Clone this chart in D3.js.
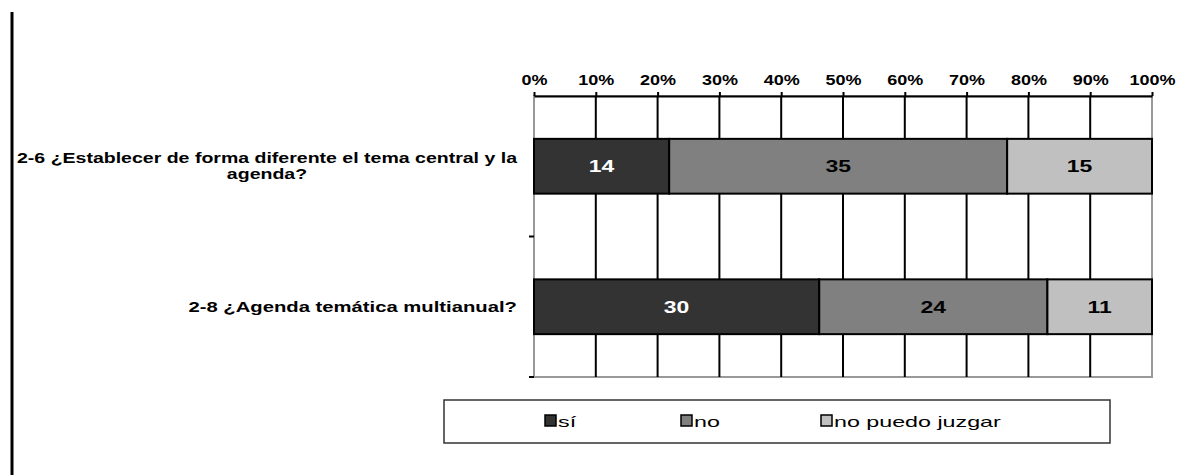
<!DOCTYPE html>
<html lang="en">
  <head>
    <meta charset="utf-8">
    <title>Agenda stacked bars</title>
    <script type="text/javascript" src="https://cdn.jsdelivr.net/npm/d3@7"></script>
    <style type="text/css">
     body { margin: 0; background: #fff; }
     text { font-family: "Liberation Sans", Arial, sans-serif; }
    </style>
  </head>
  <body>
    <script type="text/javascript">

     // data
     let questions = ["2-6 ¿Establecer de forma diferente el tema central y la agenda?",
                      "2-8 ¿Agenda temática multianual?"];
     let questionLines = [["2-6 ¿Establecer de forma diferente el tema central y la", "agenda?"],
                          ["2-8 ¿Agenda temática multianual?"]];
     let seriesNames = ["sí", "no", "no puedo juzgar"];
     let siValues = [14, 30];
     let noValues = [35, 24];
     let npjValues = [15, 11];
     let tickLabels = ["0%", "10%", "20%", "30%", "40%", "50%", "60%", "70%", "80%", "90%", "100%"];
     let colors = ["#333333", "#808080", "#c0c0c0"];
     let labelColors = ["#ffffff", "#000000", "#000000"];

     let w = 1177, h = 475;
     let margin = {top: 96, right: 25, bottom: 98, left: 534};

     // the original text looks horizontally stretched, so widen it a bit
     function stretch(sel, factor, adjust) {
       sel.each(function() {
         let len = this.getComputedTextLength();
         d3.select(this)
           .attr("textLength", len * factor)
           .attr("lengthAdjust", adjust || "spacingAndGlyphs");
       });
     }

     let svg = d3.select("body").append("svg")
                 .attr("width", w)
                 .attr("height", h)
                 .style("display", "block");

     // left frame line
     svg.append("line")
        .attr("x1", 12).attr("x2", 12)
        .attr("y1", 12).attr("y2", h)
        .attr("stroke", "#000").attr("stroke-width", 3);

     let rows = questions.map((q, i) => {
       let vals = [siValues[i], noValues[i], npjValues[i]];
       let total = d3.sum(vals);
       let acc = 0;
       return {q: q, lines: questionLines[i], segs: vals.map((v, k) => {
         let s = {k: k, v: v, x0: acc / total, x1: (acc + v) / total};
         acc += v;
         return s;
       })};
     });

     let x = d3.scaleLinear().domain([0, 1]).range([margin.left, w - margin.right]);
     let y = d3.scaleBand()
               .domain(questions)
               .range([margin.top, h - margin.bottom])
               .paddingInner(0.61)
               .paddingOuter(0.305);

     // plot frame (grey left/right/bottom)
     svg.append("rect")
        .attr("x", x(0)).attr("y", margin.top)
        .attr("width", x(1) - x(0)).attr("height", h - margin.bottom - margin.top)
        .attr("fill", "none").attr("stroke", "#999").attr("stroke-width", 2);

     // vertical gridlines
     svg.selectAll("line.grid")
        .data(d3.range(1, 10).map(d => d / 10))
        .enter()
        .append("line")
        .attr("class", "grid")
        .attr("x1", d => x(d)).attr("x2", d => x(d))
        .attr("y1", margin.top).attr("y2", h - margin.bottom)
        .attr("stroke", "#000").attr("stroke-width", 2);

     // bars
     let g = svg.selectAll("g.row")
                .data(rows)
                .enter()
                .append("g")
                .attr("class", "row");

     g.selectAll("rect")
      .data(d => d.segs.map(s => Object.assign({q: d.q}, s)))
      .enter()
      .append("rect")
      .attr("x", d => x(d.x0))
      .attr("y", d => y(d.q))
      .attr("width", d => x(d.x1) - x(d.x0))
      .attr("height", y.bandwidth())
      .attr("fill", d => colors[d.k])
      .attr("stroke", "#000")
      .attr("stroke-width", 2);

     let vals = g.selectAll("text.val")
      .data(d => d.segs.map(s => Object.assign({q: d.q}, s)))
      .enter()
      .append("text")
      .attr("class", "val")
      .attr("x", d => (x(d.x0) + x(d.x1)) / 2)
      .attr("y", d => y(d.q) + y.bandwidth() / 2 + 6)
      .attr("text-anchor", "middle")
      .attr("font-size", "17px")
      .attr("font-weight", "bold")
      .attr("fill", d => labelColors[d.k])
      .text(d => d.v);
     stretch(vals, 1.35);

     // top axis
     let xAxis = d3.axisTop(x)
                   .tickValues(d3.range(0, 11).map(d => d / 10))
                   .tickFormat((d, i) => tickLabels[i])
                   .tickSize(4)
                   .tickSizeOuter(0)
                   .tickPadding(7);
     let ax = svg.append("g")
                 .attr("transform", "translate(0," + margin.top + ")")
                 .call(xAxis);
     ax.select(".domain").attr("stroke", "#000").attr("stroke-width", 2);
     ax.selectAll(".tick line").attr("stroke", "#000").attr("stroke-width", 2);
     let tk = ax.selectAll(".tick text")
       .attr("font-size", "15px")
       .attr("font-weight", "bold")
       .attr("font-family", "'Liberation Sans', Arial, sans-serif")
       .attr("fill", "#000");
     stretch(tk, 1.2);

     // left axis ticks on band boundaries
     svg.selectAll("line.ytick")
        .data([margin.top + y.step(), h - margin.bottom])
        .enter()
        .append("line")
        .attr("class", "ytick")
        .attr("x1", x(0) - 5).attr("x2", x(0))
        .attr("y1", d => d).attr("y2", d => d)
        .attr("stroke", "#000").attr("stroke-width", 2);

     // category labels, centred block whose right edge sits near the axis
     let labRight = 517, labMaxW = 500;
     rows.forEach(d => {
       let n = d.lines.length;
       let cy = y(d.q) + y.bandwidth() / 2;
       let t = svg.append("text")
                  .attr("class", "cat")
                  .attr("font-size", "15px")
                  .attr("font-weight", "bold")
                  .attr("text-anchor", "middle")
                  .attr("fill", "#000");
       let spans = d.lines.map((ln, i) => t.append("tspan")
                                            .attr("y", cy + 5 + (i - (n - 1) / 2) * 16)
                                            .text(ln));
       let raw = spans.map(s => s.node().getComputedTextLength());
       let k = Math.min(1.35, labMaxW / d3.max(raw));
       let widths = raw.map(r => r * k);
       let cx = labRight - d3.max(widths) / 2;
       spans.forEach((s, i) => s.attr("x", cx)
                                .attr("textLength", widths[i])
                                .attr("lengthAdjust", "spacingAndGlyphs"));
     });

     // legend
     let lg = svg.append("g");
     lg.append("rect")
       .attr("x", 444).attr("y", 400)
       .attr("width", 666).attr("height", 43)
       .attr("fill", "#fff").attr("stroke", "#333").attr("stroke-width", 1.5);
     let legX = [545, 681, 821];
     let li = lg.selectAll("g.item")
                .data(seriesNames)
                .enter()
                .append("g")
                .attr("class", "item")
                .attr("transform", (d, i) => "translate(" + legX[i] + ",421)");
     li.append("rect")
       .attr("x", 0).attr("y", -6)
       .attr("width", 11).attr("height", 11)
       .attr("fill", (d, i) => colors[i])
       .attr("stroke", "#000").attr("stroke-width", 1.5);
     let lt = li.append("text")
       .attr("x", 13).attr("y", 6)
       .attr("font-size", "15px")
       .attr("fill", "#000")
       .text(d => d);
     stretch(lt, 1.55);
    </script>
  </body>
</html>
